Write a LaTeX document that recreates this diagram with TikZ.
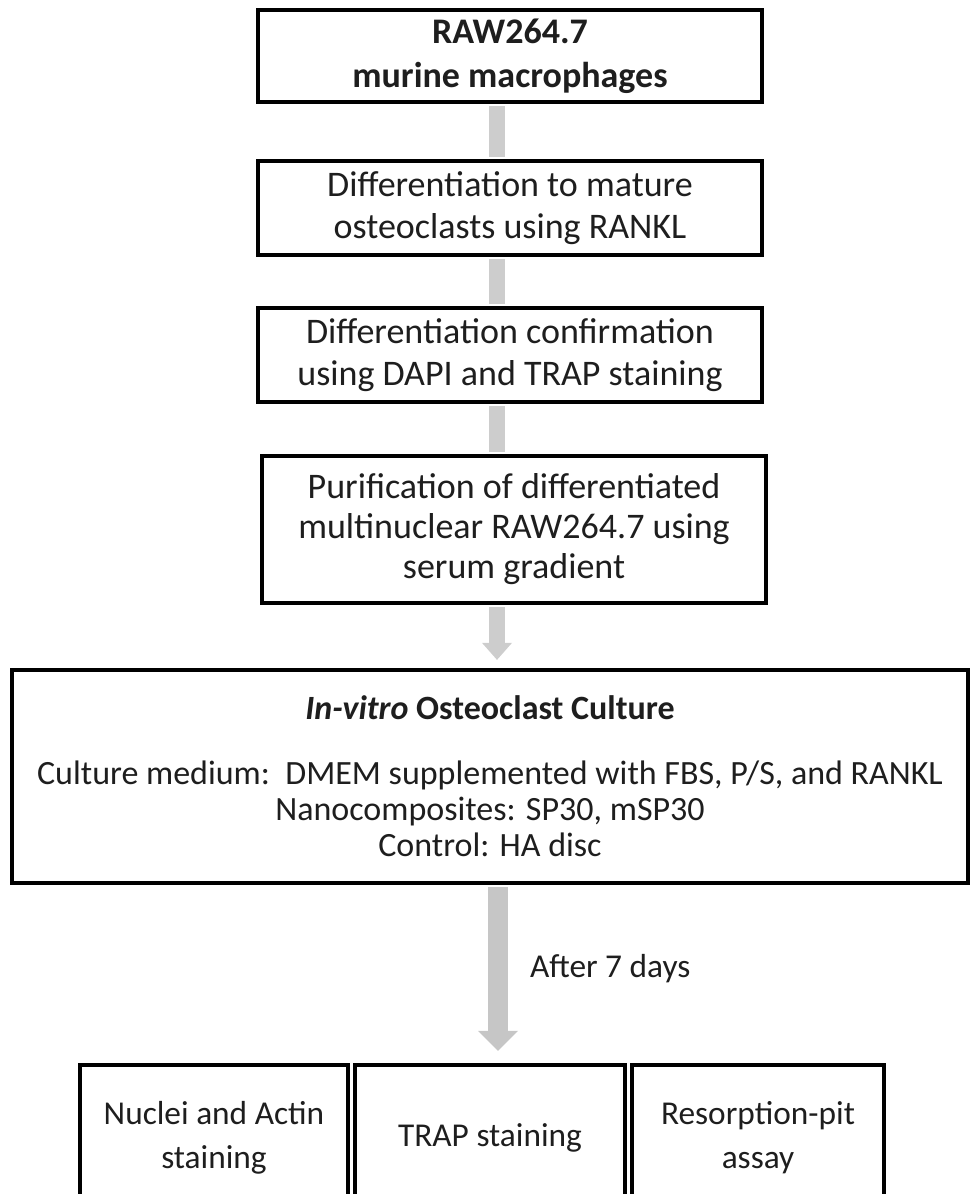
\documentclass[tikz,border=0pt]{standalone}
\usepackage{fontspec}
\setmainfont{Carlito}
\usepackage{tikz}
\usetikzlibrary{
  arrows.meta,
  positioning
}
\definecolor{framecolor}{RGB}{0, 0, 0}
\definecolor{labelcolor}{RGB}{30, 30, 30}
\definecolor{barcolor}{RGB}{205, 205, 205}
\definecolor{bigarrowcolor}{RGB}{198, 198, 198}
\tikzset{
stepbox/.style={
  draw=framecolor,
  line width=3.2pt,
  fill=white,
  align=center,
  inner sep=0pt,
  text=labelcolor,
  font=\fontsize{25}{33}\selectfont
},
topbox/.style={
  stepbox,
  minimum width=378pt,
  minimum height=70.5pt,
  font=\fontsize{27}{32}\selectfont
},
resultbox/.style={
  stepbox,
  minimum height=108.75pt
},
bar/.style={
  line width=12pt,
  draw=barcolor,
  shorten <=1.6pt,
  shorten >=1.6pt
},
flowarrow/.style={
  -{Triangle[length=12.75pt, width=22.5pt, line width=0pt]},
  line width=12pt,
  draw=barcolor,
  shorten <=1.6pt,
  shorten >=6pt
},
bigarrow/.style={
  -{Triangle[length=15pt, width=30pt, line width=0pt]},
  line width=15pt,
  draw=bigarrowcolor,
  shorten <=1.6pt,
  shorten >=9pt
},
daylabel/.style={
  font=\fontsize{25}{30}\selectfont,
  text=labelcolor,
  inner sep=0pt
}
}
\begin{document}
\begin{tikzpicture}[x=0.75pt, y=-0.75pt]
  \useasboundingbox (0,0) rectangle (970,1194);
  % Preparation steps
  \node[topbox, minimum height=69pt, font=\bfseries\fontsize{27}{33}\selectfont] (raw) at (510,56)
    {RAW264.7\\murine macrophages};
  \node[topbox] (diff) at (510,208)
    {Differentiation to mature\\osteoclasts using RANKL};
  \node[topbox] (confirm) at (510,355)
    {Differentiation confirmation\\using DAPI and TRAP staining};
  \node[topbox, minimum height=110.25pt, font=\fontsize{27}{30}\selectfont] (purify) at (514,529.5)
    {Purification of differentiated\\multinuclear RAW264.7 using\\serum gradient};
  % Culture box
  \node[stepbox, minimum width=717pt, minimum height=159.75pt,
    font=\fontsize{25.5}{27}\selectfont] (culture) at (490,776.5)
    {\textbf{\textit{In-vitro} Osteoclast Culture}\\[21.75pt]
     Culture medium:\ \ DMEM supplemented with FBS, P/S, and RANKL\\
     Nanocomposites: SP30, mSP30\\
     Control: HA disc};
  % Analyses
  \node[resultbox, minimum width=201pt] (actin) at (214,1137.5)
    {Nuclei and Actin\\staining};
  \node[resultbox, minimum width=202.5pt] (trap) at (490,1137.5)
    {TRAP staining};
  \node[resultbox, minimum width=189pt] (pit) at (758,1137.5)
    {Resorption-pit\\assay};
  % Connectors
  \draw[bar] ([xshift=-9.75pt]raw.south) -- ([xshift=-9.75pt]diff.north);
  \draw[bar] ([xshift=-9.75pt]diff.south) -- ([xshift=-9.75pt]confirm.north);
  \draw[bar] ([xshift=-9.75pt]confirm.south) -- ([xshift=-12.75pt]purify.north);
  \draw[flowarrow] ([xshift=-12.75pt]purify.south) -- ([xshift=5.25pt]culture.north);
  \draw[bigarrow] ([xshift=6pt]culture.south) -- ([xshift=6pt]trap.north)
    node[daylabel, pos=0.47, right=16.5pt] {After 7 days};
\end{tikzpicture}
\end{document}
